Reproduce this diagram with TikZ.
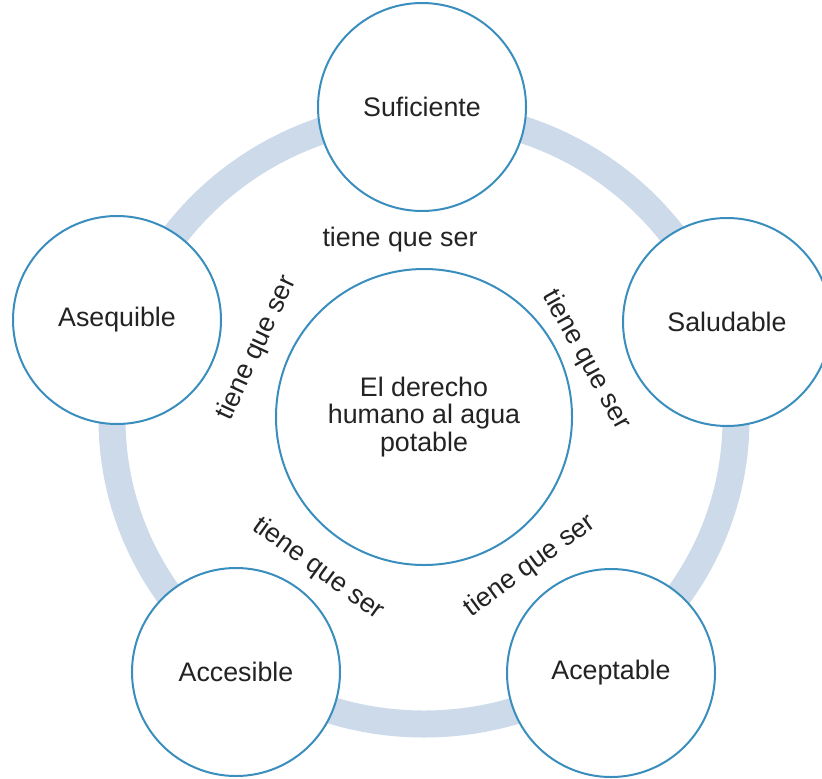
\documentclass[tikz,border=0pt]{standalone}
\usepackage{fontspec}
\setmainfont{Liberation Sans}
\definecolor{ringblue}{RGB}{204,218,234}
\definecolor{edgeblue}{RGB}{58,142,190}
\definecolor{txtgray}{RGB}{35,35,35}

\begin{document}
\begin{tikzpicture}[x=0.5pt,y=0.5pt,
  every node/.style={font=\fontsize{13.4}{13.8}\selectfont,text=txtgray},
  outer/.style={circle,draw=edgeblue,line width=1pt,fill=white,minimum size=104pt,inner sep=0pt},
  inner/.style={circle,draw=edgeblue,line width=1pt,fill=white,minimum size=148pt,inner sep=0pt,align=center},
  must/.style={inner sep=1pt}]
\useasboundingbox (0,0) rectangle (822,778);
\draw[ringblue,line width=13.5pt] (424,359) ellipse [x radius=156pt,y radius=152.5pt];

\node[inner] (derecho) at (424,361) {El derecho\\humano al agua\\potable};

\node[outer] (suficiente) at (422,671) {Suficiente};
\node[outer] (asequible) at (117,458) {Asequible};
\node[outer] (saludable) at (727,456) {Saludable};
\node[outer] (accesible) at (236,106) {Accesible};
\node[outer] (aceptable) at (611,105) {Aceptable};

\node[must] (ser1) at (400,538) {tiene que ser};
\node[must,rotate=65] (ser2) at (257,430) {tiene que ser};
\node[must,rotate=-61] (ser3) at (586,418) {tiene que ser};
\node[must,rotate=-36] (ser4) at (318,209) {tiene que ser};
\node[must,rotate=36] (ser5) at (530,212) {tiene que ser};
\end{tikzpicture}
\end{document}
